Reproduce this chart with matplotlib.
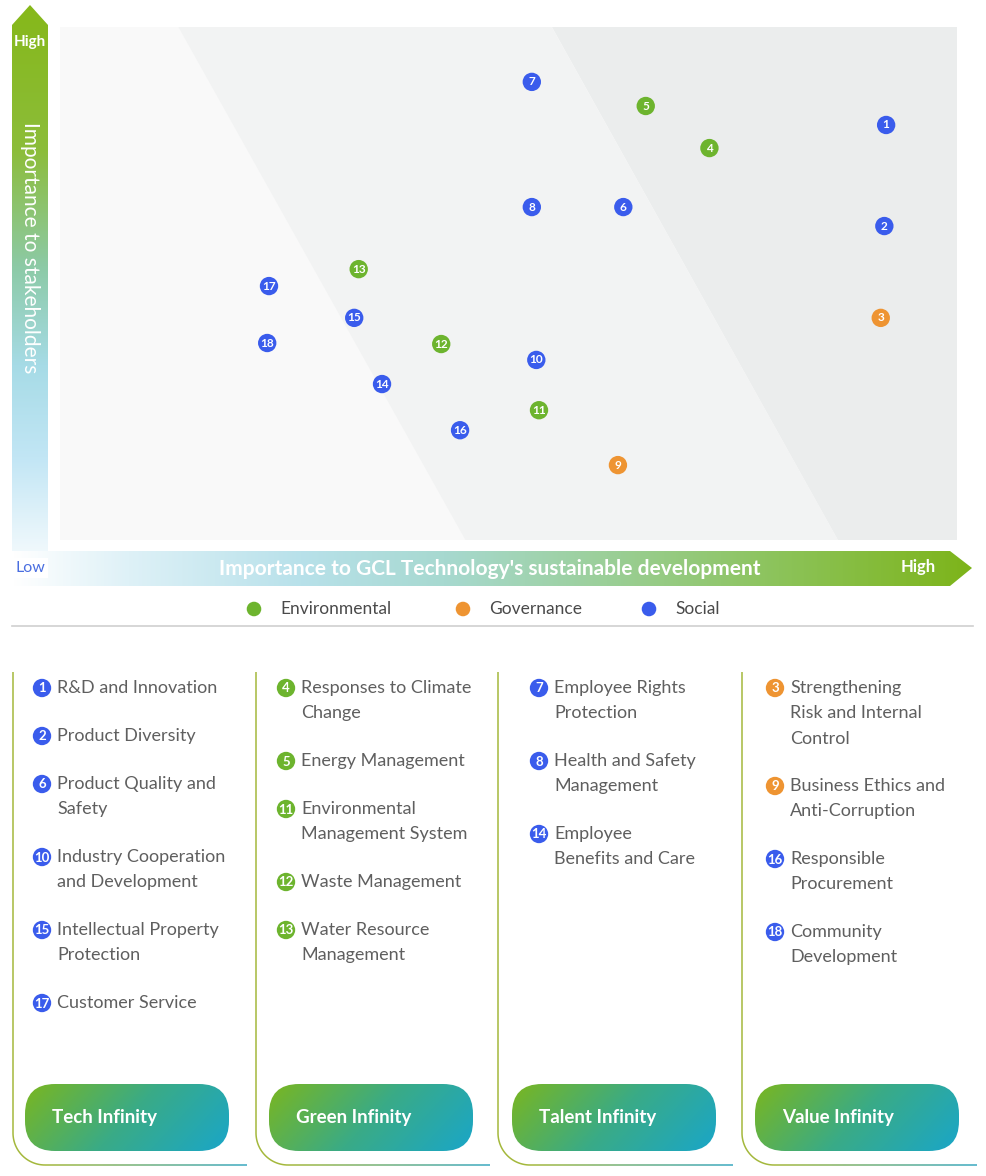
import matplotlib.pyplot as plt
import numpy as np
from matplotlib.colors import LinearSegmentedColormap, to_rgb
from matplotlib.patches import Polygon, FancyBboxPatch, Rectangle
from matplotlib.collections import LineCollection

plt.rcParams['font.family'] = ['Lato', 'DejaVu Sans']

# issue data: x = importance to GCL, y = importance to stakeholders (0-10)
issue_ids = list(range(1, 19))
x_score = [9.21, 9.19, 9.15, 7.24, 6.53, 6.28, 5.26, 5.26, 6.22,
           5.31, 5.34, 4.25, 3.33, 3.59, 3.28, 4.46, 2.33, 2.31]
y_score = [8.09, 6.12, 4.33, 7.64, 8.46, 6.49, 8.93, 6.49, 1.46,
           3.51, 2.53, 3.82, 5.28, 3.04, 4.33, 2.14, 4.95, 3.84]
category = ['S', 'S', 'G', 'E', 'E', 'S', 'S', 'S', 'G',
            'S', 'E', 'E', 'E', 'S', 'S', 'S', 'S', 'S']

cat_names = ['Environmental', 'Governance', 'Social']
cat_keys = ['E', 'G', 'S']
cat_colors = {'E': '#6db42e', 'G': '#ee9432', 'S': '#3a5cec'}

panel_titles = ['Tech Infinity', 'Green Infinity', 'Talent Infinity', 'Value Infinity']
panel_ids = [[1, 2, 6, 10, 15, 17], [4, 5, 11, 12, 13], [7, 8, 14], [3, 9, 16, 18]]
panel_labels = [
    ['R&D and Innovation', 'Product Diversity', 'Product Quality and\nSafety',
     'Industry Cooperation\nand Development', 'Intellectual Property\nProtection',
     'Customer Service'],
    ['Responses to Climate\nChange', 'Energy Management', 'Environmental\nManagement System',
     'Waste Management', 'Water Resource\nManagement'],
    ['Employee Rights\nProtection', 'Health and Safety\nManagement', 'Employee\nBenefits and Care'],
    ['Strengthening\nRisk and Internal\nControl', 'Business Ethics and\nAnti-Corruption',
     'Responsible\nProcurement', 'Community\nDevelopment'],
]

W, H = 987, 1176
fig = plt.figure(figsize=(W / 100, H / 100), dpi=100)
bg = fig.add_axes([0, 0, 1, 1])
bg.set_xlim(0, W)
bg.set_ylim(H, 0)
bg.axis('off')


def grad_fill(ax, patch, cmap, extent, direction='h', diag=0.0):
    ax.add_patch(patch)
    patch.set_facecolor('none')
    patch.set_edgecolor('none')
    n = 256
    u = np.linspace(0, 1, n)
    if direction == 'h':
        xx, yy = np.meshgrid(u, np.linspace(0, 1, 64))
        t = (xx + diag * yy) / (1 + diag)
    else:
        yy, xx = np.meshgrid(u, np.linspace(0, 1, 8), indexing='ij')
        t = yy
    im = ax.imshow(cmap(t), extent=extent, origin='upper', aspect='auto',
                   interpolation='bilinear', zorder=patch.get_zorder())
    im.set_clip_path(patch)


# vertical arrow
vcmap = LinearSegmentedColormap.from_list('v', [
    (0.0, '#86b81a'), (0.25, '#8cbd3a'), (0.45, '#8ccaa6'),
    (0.62, '#a6dbe6'), (0.78, '#c2e6f5'), (0.92, '#eaf6fb'), (1.0, '#ffffff')])
varrow = Polygon([(30, 5), (48, 25), (48, 586), (12, 586), (12, 25)], closed=True, zorder=2)
grad_fill(bg, varrow, vcmap, (12, 48, 586, 5), direction='v')

# horizontal arrow
hcmap = LinearSegmentedColormap.from_list('h', [
    (0.0, '#ffffff'), (0.12, '#def1f7'), (0.3, '#b8e1ea'), (0.45, '#a7d9d0'),
    (0.62, '#9bcf98'), (0.8, '#8cc35a'), (1.0, '#7db41a')])
harrow = Polygon([(12, 551), (950, 551), (972, 568), (950, 586), (12, 586)], closed=True, zorder=3)
grad_fill(bg, harrow, hcmap, (12, 972, 586, 551), direction='h')

bg.text(30, 42, 'High', color='white', fontsize=11, fontweight='bold',
        ha='center', va='center', zorder=5)
bg.text(30, 248, 'Importance to stakeholders', color='white', fontsize=15,
        rotation=-90, ha='center', va='center', zorder=5)
bg.add_patch(Rectangle((13, 558), 35, 20, facecolor='white', edgecolor='none', zorder=4))
bg.text(30, 568, 'Low', color='#4a6ee0', fontsize=11.5, ha='center', va='center', zorder=5)
bg.text(490, 569, "Importance to GCL Technology's sustainable development", color='white',
        fontsize=15, fontweight='bold', ha='center', va='center', zorder=5)
bg.text(918, 567, 'High', color='white', fontsize=12, fontweight='bold',
        ha='center', va='center', zorder=5)

# legend
leg_x = [254, 463, 649]
for lx, key, name in zip(leg_x, cat_keys, cat_names):
    bg.scatter([lx], [609], s=110, color=cat_colors[key], edgecolor='none', zorder=5)
    bg.text(lx + 26, 609, name, fontsize=12.5, color='#4a4a4a', va='center', ha='left')
bg.plot([12, 973], [626, 626], color='#cfcfcf', lw=1.2)

# scatter area
ax = fig.add_axes([60 / W, 1 - 540 / H, 897 / W, 513 / H])
ax.set_xlim(0, 10)
ax.set_ylim(0, 10)
ax.axis('off')
ax.add_patch(Rectangle((0, 0), 10, 10, facecolor='#f9f9f9', edgecolor='none', zorder=0))
ax.add_patch(Polygon([(1.32, 10), (5.48, 10), (8.67, 0), (4.52, 0)],
                     facecolor='#f2f3f3', edgecolor='none', zorder=0))
ax.add_patch(Polygon([(5.48, 10), (10, 10), (10, 0), (8.67, 0)],
                     facecolor='#ebeded', edgecolor='none', zorder=0))
for i, xv, yv, c in zip(issue_ids, x_score, y_score, category):
    ax.scatter([xv], [yv], s=175, color=cat_colors[c], edgecolor='none', zorder=3)
    ax.text(xv, yv, str(i), color='white', fontsize=8.5, fontweight='bold',
            ha='center', va='center', zorder=4)

# bottom panels
panel_x0 = [13, 256, 498, 742]
panel_x1 = [247, 490, 733, 977]
item_cx = [42, 286, 539, 775]
pill_x0 = [25, 269, 512, 755]
cid = dict(zip(issue_ids, category))
pcmap = LinearSegmentedColormap.from_list('p', ['#7ab620', '#3aab86', '#1aa6c8'])
olive = to_rgb('#a4b83c')
teal = to_rgb('#3aa8c0')
r = 32
for k in range(4):
    x0, x1 = panel_x0[k], panel_x1[k]
    t = np.linspace(np.pi, np.pi / 2, 30)
    cx, cy = x0 + r, 1165 - r
    px = np.concatenate([[x0], cx + r * np.cos(t)])
    py = np.concatenate([[672], cy + r * np.sin(t)])
    bg.plot(px, py, color=olive, lw=1.1, solid_capstyle='butt')
    xs = np.linspace(cx, x1, 60)
    segs = [[(xs[j], 1165), (xs[j + 1], 1165)] for j in range(len(xs) - 1)]
    f = np.linspace(0, 1, len(segs))
    cols = [tuple(olive[m] * (1 - v) + teal[m] * v for m in range(3)) for v in f]
    bg.add_collection(LineCollection(segs, colors=cols, linewidths=1.1))

    # items
    y = 688
    ix = item_cx[k]
    for num, lab in zip(panel_ids[k], panel_labels[k]):
        bg.scatter([ix], [y], s=175, color=cat_colors[cid[num]], edgecolor='none', zorder=5)
        bg.text(ix, y + 0.5, str(num), color='white', fontsize=9.5, fontweight='bold',
                ha='center', va='center', zorder=6)
        nl = lab.count('\n') + 1
        for li, line in enumerate(lab.split('\n')):
            bg.text(ix + 15, y + li * 25.3, line, fontsize=13, color='#5f5f5f',
                    ha='left', va='center')
        y += nl * 25 + 23

    # pill
    pill = FancyBboxPatch((pill_x0[k], 1084), 204, 67,
                          boxstyle='round,pad=0,rounding_size=30', zorder=4)
    grad_fill(bg, pill, pcmap, (pill_x0[k], pill_x0[k] + 204, 1151, 1084), direction='h', diag=0.3)
    bg.text(pill_x0[k] + 27, 1117, panel_titles[k], color='white', fontsize=13.5,
            fontweight='bold', ha='left', va='center', zorder=6)

fig.savefig('out.png', dpi=100)
